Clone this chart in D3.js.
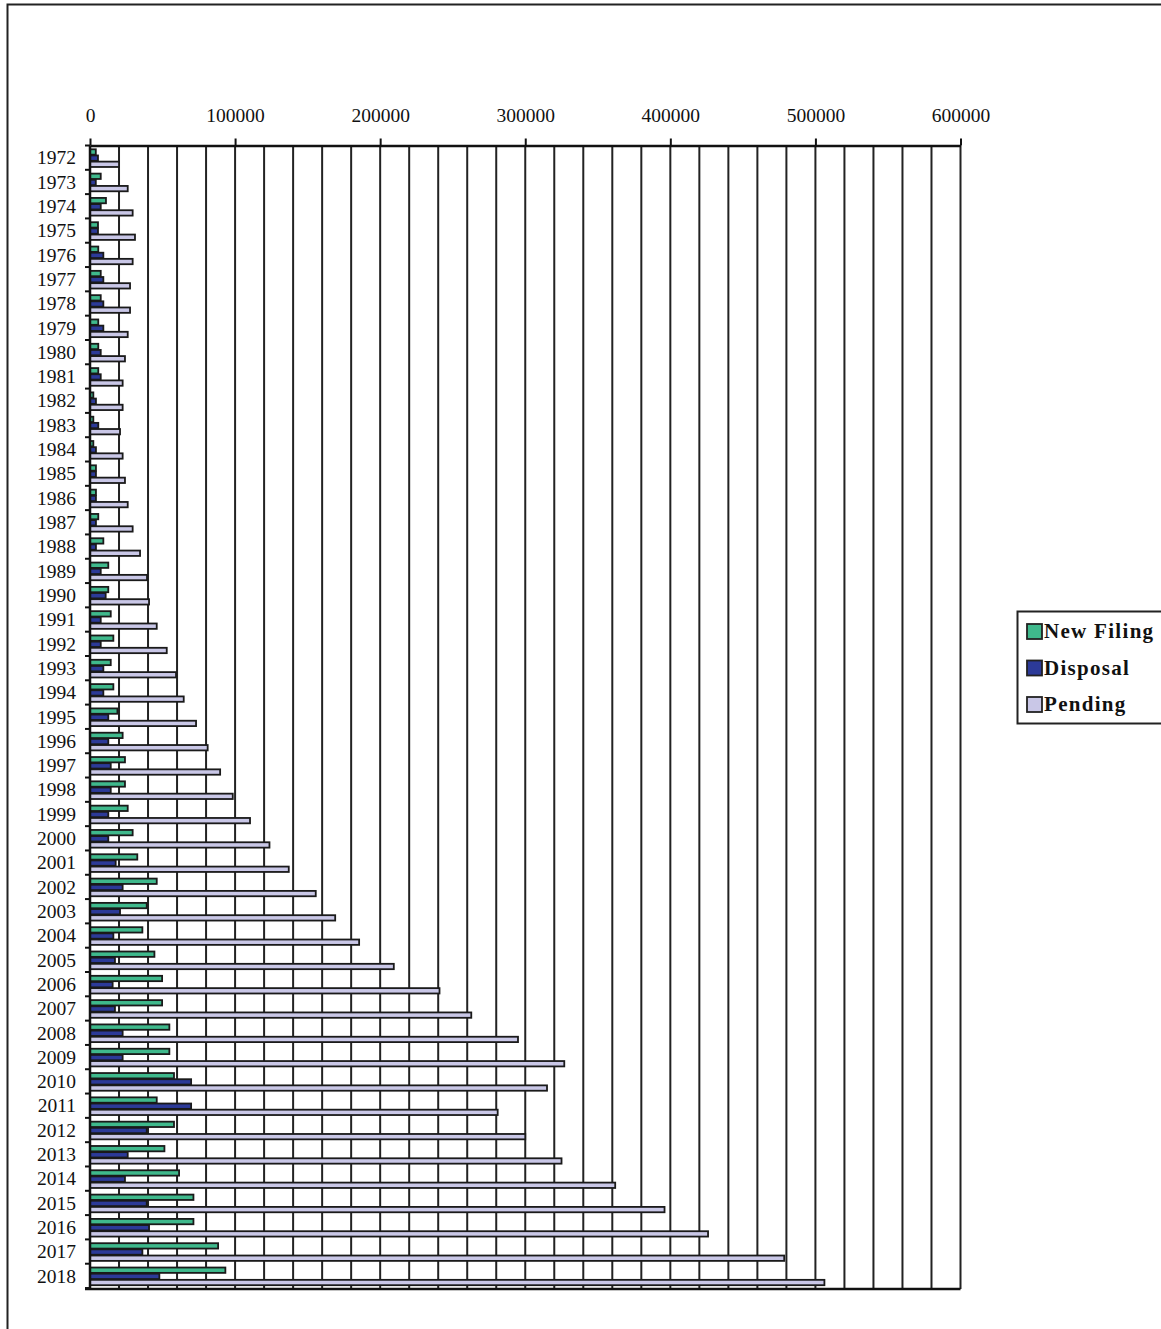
<!DOCTYPE html>
<html>
<head>
<meta charset="utf-8">
<script src="https://cdn.jsdelivr.net/npm/d3@7"></script>
<style>
  html, body { margin: 0; padding: 0; background: #fff; }
  svg { display: block; }
  text { font-family: "Liberation Serif", "Times New Roman", serif; fill: #111; }
</style>
</head>
<body>
<svg id="chart" width="1161" height="1329"></svg>
<script>
// Case statistics per year
const years = d3.range(1972, 2019).map(String);

const newFiling = [
  4000, 7400, 11000, 5500, 5700, 7400, 7400, 5700, 5700, 5700,
  2300, 2300, 2300, 4100, 4100, 5700, 9200, 12600, 12600, 14300,
  16100, 14300, 16100, 18900, 22500, 24100, 24100, 26000, 29400, 32600,
  46000, 39100, 36100, 44400, 49700, 49700, 54700, 54700, 57900, 46000,
  57900, 51300, 61400, 71300, 71300, 88300, 93300
];

const disposal = [
  5500, 4000, 7400, 5500, 9200, 9200, 9200, 9200, 7400, 7400,
  4100, 5700, 4100, 4100, 4100, 4100, 4100, 7400, 10800, 7400,
  7400, 9200, 9200, 12600, 12600, 14300, 14300, 12600, 12600, 17700,
  22500, 20700, 16100, 17200, 15600, 17200, 22500, 22500, 69700, 69700,
  39100, 26000, 24100, 39100, 40700, 36100, 47800
];

const pending = [
  20000, 26000, 29400, 31000, 29400, 27600, 27600, 26000, 24100, 22500,
  22500, 20700, 22500, 24100, 26000, 29400, 34500, 39300, 40700, 46000,
  52900, 59300, 64600, 73100, 81100, 89700, 98400, 110300, 123700, 137000,
  155600, 169000, 185500, 209400, 240900, 262800, 295000, 326900, 315000, 281000,
  300000, 325000, 362000, 396000, 426000, 478500, 506200
];

const seriesNames = ["New Filing", "Disposal", "Pending"];
const seriesColors = ["#3fb98c", "#2c3a98", "#c9c7e7"];
const seriesValues = [newFiling, disposal, pending];

const xTicks = [0, 100000, 200000, 300000, 400000, 500000, 600000];
const gridStep = 20000;

const svg = d3.select("#chart");

// outer frame (top and left edges are within the page)
svg.append("path")
  .attr("d", "M7.5,1329 V4.5 H1161")
  .attr("fill", "none")
  .attr("stroke", "#222")
  .attr("stroke-width", 2);

const plot = { left: 90, right: 960.5, top: 145.5, bottom: 1289 };

const x = d3.scaleLinear().domain([0, 600000]).range([plot.left, plot.right]);
const y = d3.scaleBand().domain(years).range([plot.top, plot.bottom])
  .paddingInner(0.24).paddingOuter(0.14);
const ySub = d3.scaleBand().domain(seriesNames).range([0, y.bandwidth()]);

// vertical gridlines every 20000
const gridVals = d3.range(gridStep, 600000 + 1, gridStep);
svg.append("g")
  .selectAll("line")
  .data(gridVals)
  .join("line")
  .attr("x1", d => x(d)).attr("x2", d => x(d))
  .attr("y1", plot.top).attr("y2", plot.bottom)
  .attr("stroke", "#222")
  .attr("stroke-width", 2);

// bars
const rows = years.map((yr, i) => ({
  year: yr,
  vals: seriesNames.map((s, j) => ({ name: s, value: seriesValues[j][i], color: seriesColors[j] }))
}));

const groups = svg.append("g")
  .selectAll("g")
  .data(rows)
  .join("g")
  .attr("transform", d => `translate(0,${y(d.year)})`);

groups.selectAll("rect")
  .data(d => d.vals)
  .join("rect")
  .attr("x", x(0))
  .attr("y", d => ySub(d.name) + 0.4)
  .attr("width", d => x(d.value) - x(0))
  .attr("height", ySub.bandwidth() - 0.8)
  .attr("fill", d => d.color)
  .attr("stroke", "#1a1a1a")
  .attr("stroke-width", 1.8);

// top value axis
const xAxis = d3.axisTop(x)
  .tickValues(xTicks)
  .tickSize(7)
  .tickSizeOuter(0)
  .tickPadding(16.5)
  .tickFormat(d3.format("d"));

const gx = svg.append("g")
  .attr("transform", `translate(0,${plot.top})`)
  .call(xAxis);
gx.select(".domain").attr("stroke", "#111").attr("stroke-width", 2.5);
gx.selectAll(".tick line").attr("stroke", "#111").attr("stroke-width", 2);
gx.selectAll(".tick text")
  .style("font-family", '"Liberation Serif", "Times New Roman", serif')
  .style("font-size", "19.5px")
  .attr("fill", "#111");

// left category axis: labels centred on bands, ticks at band boundaries
const yAxis = d3.axisLeft(y).tickSize(0).tickPadding(14);
const gy = svg.append("g")
  .attr("transform", `translate(${plot.left},0)`)
  .call(yAxis);
gy.select(".domain").remove();
gy.selectAll(".tick text")
  .style("font-family", '"Liberation Serif", "Times New Roman", serif')
  .style("font-size", "19.5px")
  .attr("fill", "#111");

const step = y.step();
const boundaries = d3.range(years.length + 1).map(i => plot.top + i * step);
svg.append("g")
  .selectAll("line")
  .data(boundaries)
  .join("line")
  .attr("x1", plot.left - 5).attr("x2", plot.left)
  .attr("y1", d => d).attr("y2", d => d)
  .attr("stroke", "#111")
  .attr("stroke-width", 2);

// axis lines: left and bottom
svg.append("line")
  .attr("x1", plot.left).attr("x2", plot.left)
  .attr("y1", plot.top).attr("y2", plot.bottom)
  .attr("stroke", "#111").attr("stroke-width", 2.5);
svg.append("line")
  .attr("x1", plot.left - 5).attr("x2", plot.right)
  .attr("y1", plot.bottom).attr("y2", plot.bottom)
  .attr("stroke", "#111").attr("stroke-width", 2.5);

// legend
const legend = svg.append("g").attr("transform", "translate(1017,611)");
legend.append("rect")
  .attr("x", 0.5).attr("y", 0.5)
  .attr("width", 170).attr("height", 112)
  .attr("fill", "#fff")
  .attr("stroke", "#222")
  .attr("stroke-width", 2);

const items = legend.selectAll("g.item")
  .data(seriesNames.map((s, i) => ({ name: s, color: seriesColors[i] })))
  .join("g")
  .attr("class", "item")
  .attr("transform", (d, i) => `translate(10,${13 + i * 36.5})`);

items.append("rect")
  .attr("width", 15).attr("height", 15)
  .attr("fill", d => d.color)
  .attr("stroke", "#222")
  .attr("stroke-width", 1.8);

items.append("text")
  .attr("x", 17)
  .attr("y", 14)
  .style("font-family", '"Liberation Serif", "Times New Roman", serif')
  .style("font-size", "21px")
  .style("font-weight", "bold")
  .style("letter-spacing", "1.3px")
  .attr("fill", "#111")
  .text(d => d.name);
</script>
</body>
</html>
